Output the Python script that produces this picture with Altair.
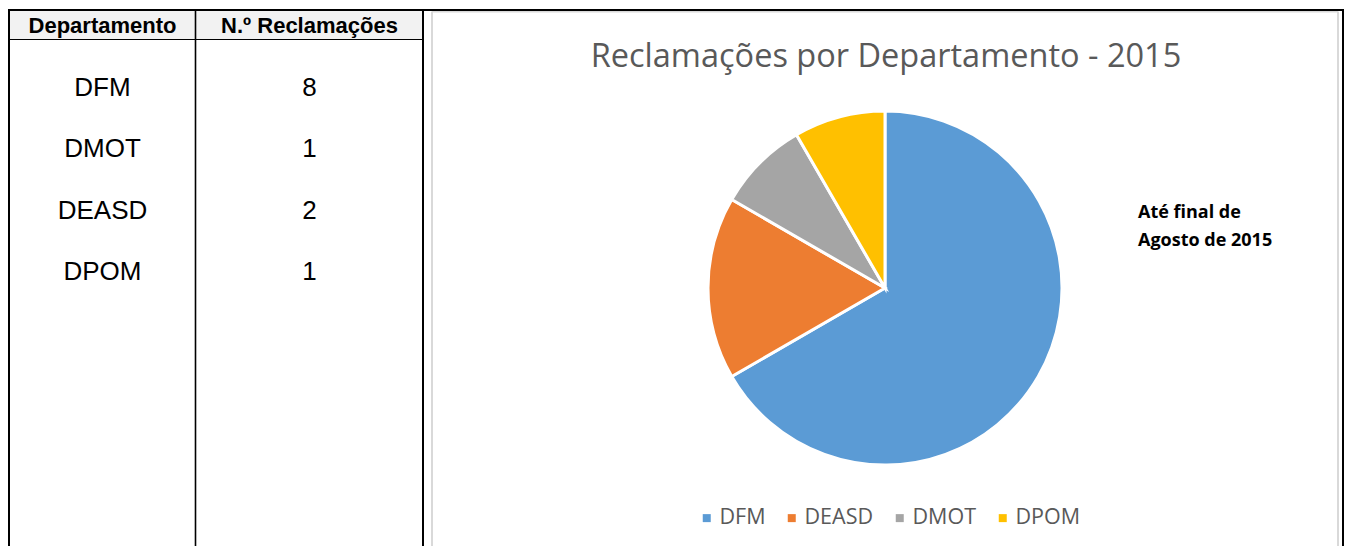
import altair as alt
import pandas as pd

# ---- data ----
headers = ["Departamento", "N.º Reclamações"]
table_depts = ["DFM", "DMOT", "DEASD", "DPOM"]
table_counts = [8, 1, 2, 1]

pie_depts = ["DFM", "DEASD", "DMOT", "DPOM"]
pie_counts = [8, 2, 1, 1]
pie_colors = ["#5b9bd5", "#ed7d31", "#a5a5a5", "#ffc000"]

title_text = "Reclamações por Departamento - 2015"
note_lines = ["Até final de", "Agosto de 2015"]

# ---- tables built from the lists ----
cells = []
for i, (d, c) in enumerate(zip(table_depts, table_counts)):
    cells.append({"col": headers[0], "row": i, "txt": d})
    cells.append({"col": headers[1], "row": i, "txt": str(c)})
cells_df = pd.DataFrame(cells)
head_df = pd.DataFrame({"col": headers})
pie_df = pd.DataFrame({"dept": pie_depts, "n": pie_counts, "ord": list(range(len(pie_depts)))})
one = pd.DataFrame({"k": [0]})

W, H = 1336, 538

xcol = alt.X("col:N", axis=None,
             scale=alt.Scale(type="point", domain=headers, range=[94.5, 301.5], padding=0))


def rule(x, y, x2, y2, color="black", sw=2):
    return alt.Chart(one).mark_rule(color=color, strokeWidth=sw).encode(
        x=alt.value(x), y=alt.value(y), x2=alt.value(x2), y2=alt.value(y2)
    )


header_bg = alt.Chart(one).mark_rect(color="#f2f2f2").encode(
    x=alt.value(1), x2=alt.value(415), y=alt.value(3), y2=alt.value(31)
)

lines = [
    rule(424, 3.5, 424, H, "#d9d9d9", 2),
    rule(424, 3.5, 1330, 3.5, "#d9d9d9", 2),
    rule(1330, 3.5, 1330, H, "#d9d9d9", 2),
    rule(0, 2, W, 2),
    rule(1, 2, 1, H),
    rule(0, 31.5, 416, 31.5, sw=1.2),
    rule(187.5, 2, 187.5, H, sw=1.6),
    rule(415, 2, 415, H),
    rule(1335, 2, 1335, H),
]

head_text = alt.Chart(head_df).mark_text(
    font="Liberation Sans", fontSize=22, fontWeight="bold", color="black", baseline="middle"
).encode(x=xcol, y=alt.value(17.5), text="col:N")

body_text = alt.Chart(cells_df).mark_text(
    font="Liberation Sans", fontSize=26, color="black", baseline="middle"
).encode(
    x=xcol,
    y=alt.Y("row:O", axis=None,
            scale=alt.Scale(type="point", domain=[0, 1, 2, 3], range=[80, 264], padding=0)),
    text="txt:N",
)

pie = alt.Chart(pie_df).mark_arc(radius=177, stroke="white", strokeWidth=3).encode(
    theta=alt.Theta("n:Q", stack=True),
    order=alt.Order("ord:Q"),
    color=alt.Color(
        "dept:N",
        scale=alt.Scale(domain=pie_depts, range=pie_colors),
        sort=pie_depts,
        legend=alt.Legend(
            title=None,
            orient="none",
            legendX=688,
            legendY=499,
            direction="horizontal",
            symbolType="square",
            symbolSize=64,
            symbolStrokeWidth=0,
            labelFont="Open Sans",
            labelFontSize=21.5,
            labelColor="#595959",
            labelOffset=2,
            columnPadding=15,
        ),
    ),
    x=alt.value(877),
    y=alt.value(280),
)

title = alt.Chart(one).mark_text(
    text=title_text, font="Open Sans", fontSize=32.5, color="#595959", baseline="middle", align="center"
).encode(x=alt.value(878), y=alt.value(49))

note = alt.Chart(one).mark_text(
    text=note_lines, font="Open Sans", fontSize=18, fontWeight="bold", color="black",
    baseline="middle", align="left", lineHeight=28
).encode(x=alt.value(1130), y=alt.value(205))

chart = alt.layer(header_bg, *lines, head_text, body_text, pie, title, note).properties(
    width=W, height=H, padding=0, autosize=alt.AutoSizeParams(type="none")
).configure_view(stroke=None)

chart.save("out.html", embed_options={"renderer": "svg", "actions": False})
